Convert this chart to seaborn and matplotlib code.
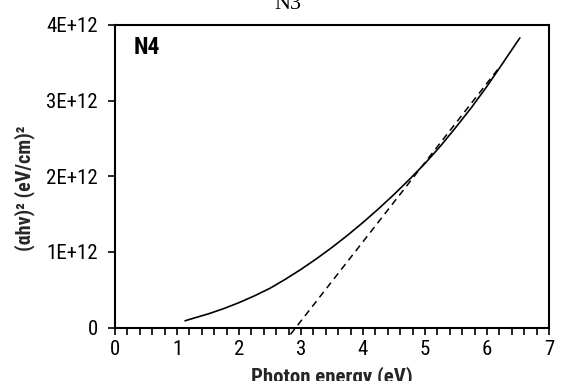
import matplotlib
matplotlib.use("Agg")
import matplotlib.pyplot as plt
from matplotlib.ticker import MultipleLocator
import pandas as pd
import seaborn as sns

# Tauc plot: (alpha*h*nu)^2 versus photon energy
energy = [1.13, 1.25, 1.5, 1.75, 2.0, 2.25, 2.5, 2.75, 3.0, 3.25, 3.5, 3.75,
          4.0, 4.25, 4.5, 4.75, 5.0, 5.25, 5.5, 5.75, 6.0, 6.25, 6.53]
tauc = [0.09e12, 0.12e12, 0.18e12, 0.25e12, 0.33e12, 0.42e12, 0.52e12,
        0.64e12, 0.77e12, 0.91e12, 1.06e12, 1.22e12, 1.39e12, 1.57e12,
        1.76e12, 1.96e12, 2.17e12, 2.40e12, 2.65e12, 2.91e12, 3.19e12,
        3.49e12, 3.83e12]

# Linear extrapolation to the energy axis
fit_energy = [2.83, 6.2]
fit_tauc = [-0.09e12, 3.44e12]

y_ticks = [0, 1e12, 2e12, 3e12, 4e12]
y_tick_labels = ["0", "1E+12", "2E+12", "3E+12", "4E+12"]

sns.set_theme(style="white")
plt.rcParams["font.family"] = ["Roboto Condensed", "DejaVu Sans"]

fig = plt.figure(figsize=(5.61, 3.81), dpi=100)
ax = fig.add_axes([115 / 561, 1 - 327.6 / 381, (549 - 115) / 561, (327.6 - 25) / 381])

curve = pd.DataFrame({"E": energy, "T": tauc})
fit = pd.DataFrame({"E": fit_energy, "T": fit_tauc})
sns.lineplot(data=curve, x="E", y="T", ax=ax, color="black", linewidth=1.2)
sns.lineplot(data=fit, x="E", y="T", ax=ax, color="black", linewidth=1.1,
             linestyle=(0, (4.5, 3.2)))
for ln in ax.lines:
    ln.set_clip_on(False)

ax.set_xlim(0, 7)
ax.set_ylim(0, 4e12)
ax.xaxis.set_major_locator(MultipleLocator(1))
ax.xaxis.set_minor_locator(MultipleLocator(0.2))
ax.set_yticks(y_ticks)
ax.set_yticklabels(y_tick_labels)

for s in ax.spines.values():
    s.set_color("black")
    s.set_linewidth(1.5)

ax.tick_params(axis="x", which="both", direction="out", length=5, width=1.2,
               colors="black", labelsize=15, pad=4, bottom=True)
ax.tick_params(axis="y", which="major", direction="out", length=5, width=1.2,
               colors="black", labelsize=15, pad=7.5, left=True)

ax.set_xlabel("Photon energy (eV)", fontsize=15, fontweight="bold")
ax.xaxis.set_label_coords(0.5, -0.128)
ax.set_ylabel("(αhv)² (eV/cm)²", fontsize=14.5, fontweight="bold")
ax.yaxis.set_label_coords(-0.184, 0.461)

ax.text(0.043, 0.905, "N4", transform=ax.transAxes, fontsize=17, fontweight="bold",
        color="black", va="baseline")

fig.text(288 / 561, 1 - 9 / 381, "N3", fontsize=16, family="Liberation Serif",
         ha="center", va="baseline", color="black")

fig.savefig("out.png", dpi=100, facecolor="white")
